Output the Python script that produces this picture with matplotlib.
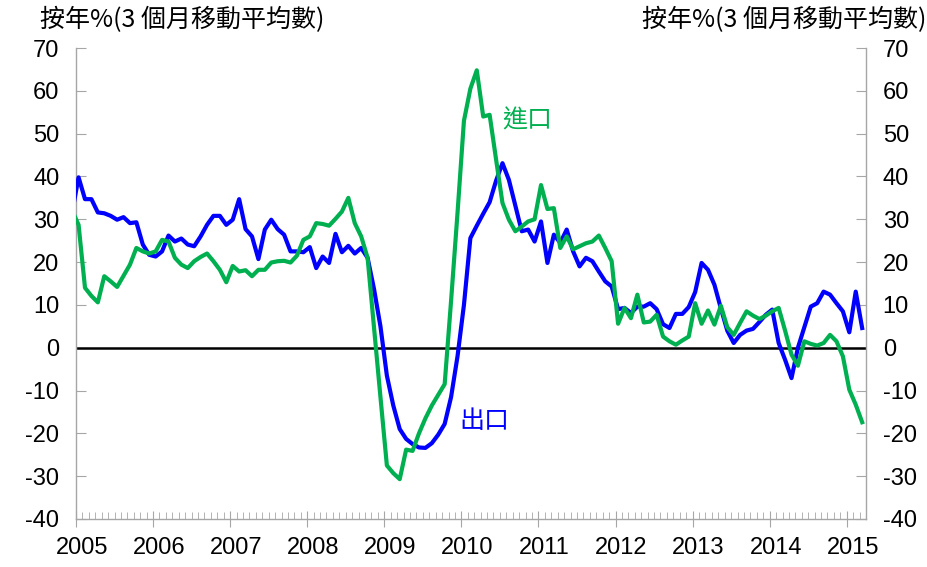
import matplotlib.pyplot as plt
import matplotlib.transforms as mtransforms
import numpy as np
from matplotlib.ticker import MultipleLocator, FixedLocator

plt.rcParams['font.family'] = ['Liberation Sans', 'DejaVu Sans']
plt.rcParams['axes.unicode_minus'] = False

# monthly 3-month moving average, y/y %, Dec 2004 .. Mar 2015
first_year = 2005
exports = [31.7,
           39.8, 34.7, 34.7, 31.6, 31.4, 30.8, 29.9, 30.5, 29.1, 29.3, 24.1, 21.7,
           21.3, 22.5, 26.2, 24.8, 25.5, 24.1, 23.7, 26.0, 28.7, 30.8, 30.8, 28.7,
           29.9, 34.7, 27.7, 26.0, 20.7, 27.6, 29.9, 27.7, 26.4, 22.5, 22.5, 22.3,
           23.5, 18.6, 21.3, 19.8, 26.6, 22.3, 23.8, 22.0, 23.3, 21.0, 13.7, 5.0,
           -6.5, -13.5, -19.0, -21.3, -22.5, -23.3, -23.4, -22.3, -20.3, -17.8, -11.5, -2.0,
           10.0, 25.6, 28.5, 31.3, 34.0, 39.0, 43.1, 39.2, 33.2, 27.2, 27.6, 24.8,
           29.5, 19.8, 26.4, 24.5, 27.6, 22.5, 19.0, 21.0, 20.2, 17.8, 15.5, 14.3,
           9.0, 9.3, 8.1, 9.6, 9.6, 10.4, 9.0, 5.5, 4.6, 7.9, 7.9, 9.5,
           13.0, 19.8, 18.2, 14.7, 9.2, 4.0, 1.1, 3.0, 4.0, 4.4, 6.0, 7.7,
           8.9, 1.1, -2.8, -7.1, 0.0, 4.8, 9.6, 10.4, 13.1, 12.4, 10.4, 8.5,
           3.6, 13.1, 4.6]
imports = [32.0,
           28.7, 14.0, 12.1, 10.6, 16.7, 15.5, 14.2, 16.8, 19.4, 23.3, 22.5, 22.0,
           22.5, 25.2, 24.8, 21.0, 19.4, 18.6, 20.2, 21.2, 22.0, 20.2, 18.2, 15.3,
           19.1, 17.8, 18.1, 16.7, 18.2, 18.2, 19.9, 20.2, 20.3, 19.9, 21.5, 25.2,
           26.0, 29.1, 28.9, 28.5, 30.1, 31.8, 35.0, 29.1, 26.0, 21.0, 4.7, -11.5,
           -27.5, -29.3, -30.7, -23.8, -24.1, -20.0, -16.5, -13.5, -11.0, -8.5, 11.0, 31.5,
           53.0, 60.5, 64.8, 54.0, 54.4, 44.0, 33.8, 29.9, 27.2, 28.3, 29.5, 30.0,
           38.0, 32.4, 32.6, 23.3, 26.0, 23.0, 23.7, 24.4, 24.8, 26.2, 23.3, 20.2,
           5.6, 9.3, 6.9, 12.4, 5.9, 6.1, 7.7, 2.6, 1.5, 0.7, 1.7, 2.6,
           10.4, 5.6, 8.7, 5.4, 9.8, 4.8, 3.0, 5.8, 8.5, 7.5, 6.7, 7.5,
           8.5, 9.3, 4.0, -1.6, -4.2, 1.5, 0.9, 0.5, 1.1, 3.0, 1.5, -2.0,
           -9.8, -13.3, -17.4]
years = list(range(2005, 2016))
unit_label = '按年%(3 個月移動平均數)'

months = np.arange(len(exports)) - 1
x = first_year + (months + 0.4) / 12

fig = plt.figure(figsize=(9.28, 5.67), dpi=100)
ax = fig.add_axes([0.0819, 0.0847, 0.8513, 0.8306])

ax.axhline(0, color='black', lw=1.8, zorder=2)
ax.plot(x, exports, color='#0000FF', lw=3, zorder=3)
ax.plot(x, imports, color='#00B050', lw=3, zorder=3)

ax.set_xlim(2005, 2015.25)
ax.set_ylim(-40, 70)
ax.yaxis.set_major_locator(MultipleLocator(10))
ax.xaxis.set_major_locator(FixedLocator(years))
ax.xaxis.set_minor_locator(MultipleLocator(1 / 12))
ax.set_xticklabels([str(y) for y in years])

ax.spines['top'].set_visible(False)
for s in ['left', 'right', 'bottom']:
    ax.spines[s].set_color('#A6A6A6')
    ax.spines[s].set_linewidth(1.0)

ax.tick_params(axis='y', which='both', direction='in', length=7, color='#A6A6A6',
               labelsize=17, left=True, right=True, labelleft=True, labelright=True, pad=12)
ax.tick_params(axis='x', which='major', direction='inout', length=12, color='#A6A6A6',
               labelsize=17, pad=7)
ax.tick_params(axis='x', which='minor', direction='in', length=5, color='#A6A6A6')

# year labels sit a little right of their ticks
shift = mtransforms.ScaledTranslation(6 / 100, 0, fig.dpi_scale_trans)
for lab in ax.get_xticklabels():
    lab.set_transform(lab.get_transform() + shift)

cjk = ['Noto Sans CJK TC', 'DejaVu Sans']
fig.text(40 / 928, 1 - 20 / 567, unit_label, family=cjk, fontsize=18, ha='left', va='center')
fig.text(926 / 928, 1 - 20 / 567, unit_label, family=cjk, fontsize=18, ha='right', va='center')

ax.text(2010.86, 53, '進口', family=cjk, fontsize=18, color='#00B050', ha='center', va='center')
ax.text(2010.30, -17, '出口', family=cjk, fontsize=18, color='#0000FF', ha='center', va='center')

fig.savefig('out.png', dpi=100)
